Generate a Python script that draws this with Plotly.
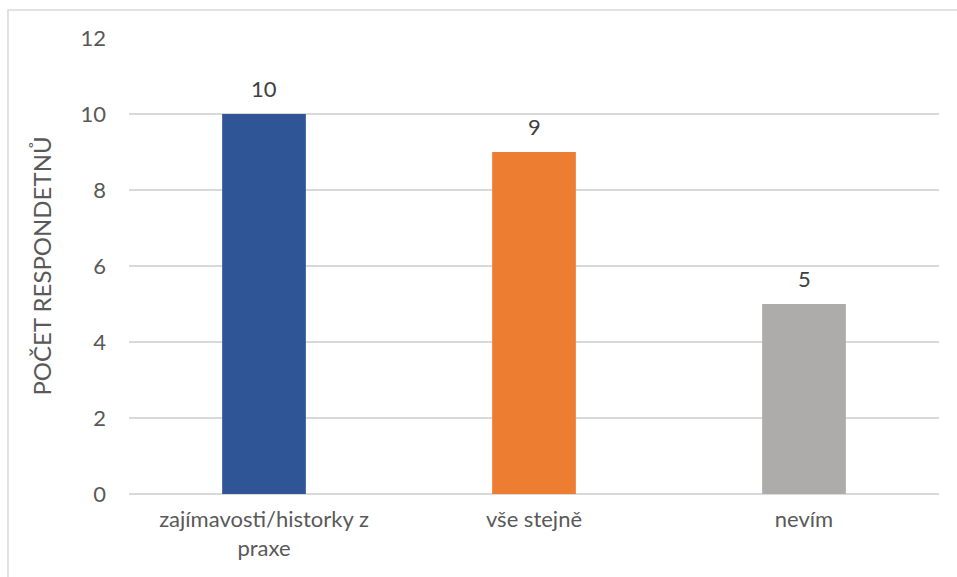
import plotly.graph_objects as go

categories = ["zajímavosti/historky z<br>praxe", "vše stejně", "nevím"]
values = [10, 9, 5]
bar_colors = ["#2F5597", "#ED7D31", "#AEABAB"]
y_ticks = [0, 2, 4, 6, 8, 10, 12]

FONT = "Lato, 'Open Sans', sans-serif"
TEXT = "#595959"
GRID = "#D9D9D9"

fig = go.Figure(
    go.Bar(
        x=categories,
        y=values,
        marker=dict(color=bar_colors, line=dict(width=0)),
        width=0.31,
        hoverinfo="x+y",
    )
)

# value labels above each bar
for cat, val in zip(categories, values):
    fig.add_annotation(
        x=cat,
        y=val,
        text=str(val),
        showarrow=False,
        yanchor="middle",
        yshift=26,
        font=dict(family=FONT, size=22, color="#404040"),
    )

fig.update_layout(
    width=957,
    height=577,
    margin=dict(l=129, r=18, t=38, b=83),
    paper_bgcolor="white",
    plot_bgcolor="white",
    showlegend=False,
    font=dict(family=FONT, size=22, color=TEXT),
    xaxis=dict(
        showgrid=False,
        showline=False,
        ticks="",
        tickfont=dict(family=FONT, size=22, color=TEXT),
        ticklabelstandoff=10,
    ),
    yaxis=dict(
        range=[0, 12],
        tickvals=y_ticks,
        showgrid=True,
        gridcolor=GRID,
        gridwidth=1.5,
        zeroline=True,
        zerolinecolor=GRID,
        zerolinewidth=1.5,
        showline=False,
        ticks="",
        ticklabelstandoff=22,
        tickfont=dict(family=FONT, size=22, color=TEXT),
        title=dict(
            text="POČET RESPONDETNŮ",
            font=dict(family=FONT, size=24, color=TEXT),
            standoff=22,
        ),
    ),
    shapes=[
        dict(
            type="rect",
            xref="paper",
            yref="paper",
            x0=-0.1494,
            x1=1.03,
            y0=-0.19,
            y1=1.0614,
            line=dict(color=GRID, width=1.5),
            fillcolor="rgba(0,0,0,0)",
            layer="below",
        )
    ],
)

fig.write_html("out.html")
